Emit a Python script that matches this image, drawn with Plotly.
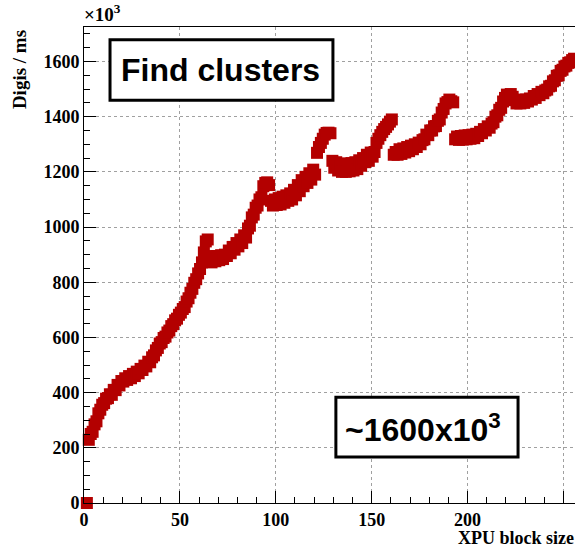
import plotly.graph_objects as go

# Throughput of the cluster-finding step versus the XPU block size
block_size = list(range(1, 256))
digis_per_ms = [
    0, 229, 250, 258, 285, 296, 325, 338, 356, 362,
    378, 380, 394, 392, 410, 409, 428, 426, 442, 440,
    452, 446, 460, 452, 468, 460, 476, 470, 486, 482,
    498, 495, 512, 510, 528, 535, 553, 562, 578, 583,
    598, 603, 618, 625, 641, 648, 662, 668, 682, 690,
    703, 710, 730, 742, 762, 776, 798, 811, 832, 848,
    872, 908, 948, 955, 895, 872, 890, 876, 895, 880,
    898, 884, 900, 895, 915, 905, 928, 918, 942, 930,
    955, 942, 970, 962, 995, 1005, 1035, 1045, 1070, 1078,
    1100, 1108, 1148, 1160, 1162, 1152, 1095, 1078, 1100, 1080,
    1105, 1082, 1110, 1088, 1115, 1095, 1122, 1100, 1135, 1115,
    1152, 1130, 1170, 1148, 1182, 1160, 1195, 1172, 1208, 1190,
    1269, 1290, 1305, 1320, 1335, 1341, 1342, 1340, 1240, 1215,
    1235, 1205, 1230, 1200, 1228, 1200, 1230, 1202, 1232, 1205,
    1235, 1210, 1242, 1222, 1250, 1235, 1262, 1240, 1270, 1255,
    1272, 1305, 1320, 1333, 1345, 1355, 1363, 1372, 1382, 1390,
    1262, 1272, 1262, 1282, 1265, 1285, 1270, 1290, 1275, 1295,
    1282, 1300, 1290, 1306, 1300, 1315, 1318, 1335, 1333, 1350,
    1350, 1365, 1366, 1385, 1390, 1415, 1428, 1448, 1453, 1462,
    1456, 1452, 1318, 1328, 1316, 1330, 1317, 1332, 1318, 1333,
    1320, 1335, 1322, 1338, 1330, 1345, 1340, 1355, 1350, 1365,
    1360, 1375, 1380, 1400, 1405, 1425, 1432, 1455, 1468, 1480,
    1478, 1482, 1472, 1460, 1448, 1462, 1448, 1460, 1450, 1462,
    1455, 1466, 1462, 1475, 1468, 1482, 1478, 1490, 1485, 1495,
    1498, 1510, 1512, 1528, 1532, 1548, 1550, 1566, 1570, 1582,
    1585, 1595, 1597, 1605, 1610,
]

x_ticks = [0, 50, 100, 150, 200, 250]
y_ticks = [0, 200, 400, 600, 800, 1000, 1200, 1400, 1600]

# bin centres of the block-size histogram
bin_centre = [b + 0.5 for b in block_size]

RED = "#b30000"
SERIF = "Liberation Serif"
SANS = "Liberation Sans"
TICK_SIZE = 18
TITLE_SIZE = 18

fig = go.Figure()
fig.add_trace(go.Scatter(
    x=bin_centre, y=digis_per_ms, mode="markers",
    marker=dict(symbol="square", size=12, color=RED, line=dict(width=0)),
    cliponaxis=False, showlegend=False, hoverinfo="skip",
))

axis_common = dict(
    showline=True, linecolor="black", linewidth=1, mirror=True,
    ticks="inside", ticklen=12, tickwidth=1, tickcolor="black",
    showgrid=True, gridcolor="#a0a0a0", griddash="dot", gridwidth=1,
    zeroline=False,
    tickfont=dict(family=SERIF, size=TICK_SIZE, color="black", weight="bold"),
)

fig.update_xaxes(
    range=[0, 256], tickvals=x_ticks, ticktext=[str(v) for v in x_ticks],
    minor=dict(dtick=10, ticks="inside", ticklen=6, tickcolor="black", showgrid=False),
    **axis_common,
)
fig.update_yaxes(
    range=[0, 1725], tickvals=y_ticks, ticktext=[str(v) for v in y_ticks],
    minor=dict(dtick=50, ticks="inside", ticklen=6, tickcolor="black", showgrid=False),
    **axis_common,
)

fig.update_layout(
    width=575, height=547,
    margin=dict(l=84, r=0, t=27, b=44),
    paper_bgcolor="white", plot_bgcolor="white",
    shapes=[
        dict(type="rect", xref="paper", yref="paper",
             x0=0.053, x1=0.507, y0=0.846, y1=0.973,
             line=dict(color="black", width=3), fillcolor="white", layer="above"),
        dict(type="rect", xref="paper", yref="paper",
             x0=0.513, x1=0.884, y0=0.0965, y1=0.2224,
             line=dict(color="black", width=3), fillcolor="white", layer="above"),
    ],
    annotations=[
        dict(text="Find clusters", xref="paper", yref="paper", x=0.277, y=0.909,
             xanchor="center", yanchor="middle", showarrow=False,
             font=dict(family=SANS, size=32, color="black", weight="bold")),
        dict(text="~1600x10<sup>3</sup>", xref="paper", yref="paper", x=0.691, y=0.157,
             xanchor="center", yanchor="middle", showarrow=False,
             font=dict(family=SANS, size=32, color="black", weight="bold")),
        dict(text="×10<sup>3</sup>", xref="paper", yref="paper", x=-0.004, y=1.0,
             xanchor="left", yanchor="bottom", showarrow=False,
             font=dict(family=SERIF, size=19, color="black", weight="bold")),
        dict(text="Digis / ms", xref="paper", yref="paper", x=-0.130, y=0.997,
             xanchor="center", yanchor="top", textangle=-90, showarrow=False,
             font=dict(family=SERIF, size=19, color="black", weight="bold")),
        dict(text="XPU block size", xref="paper", yref="paper", x=1.0, y=-0.0733,
             xanchor="right", yanchor="middle", showarrow=False, borderpad=0,
             font=dict(family=SERIF, size=TITLE_SIZE, color="black", weight="bold")),
    ],
)

fig.write_html("out.html")
